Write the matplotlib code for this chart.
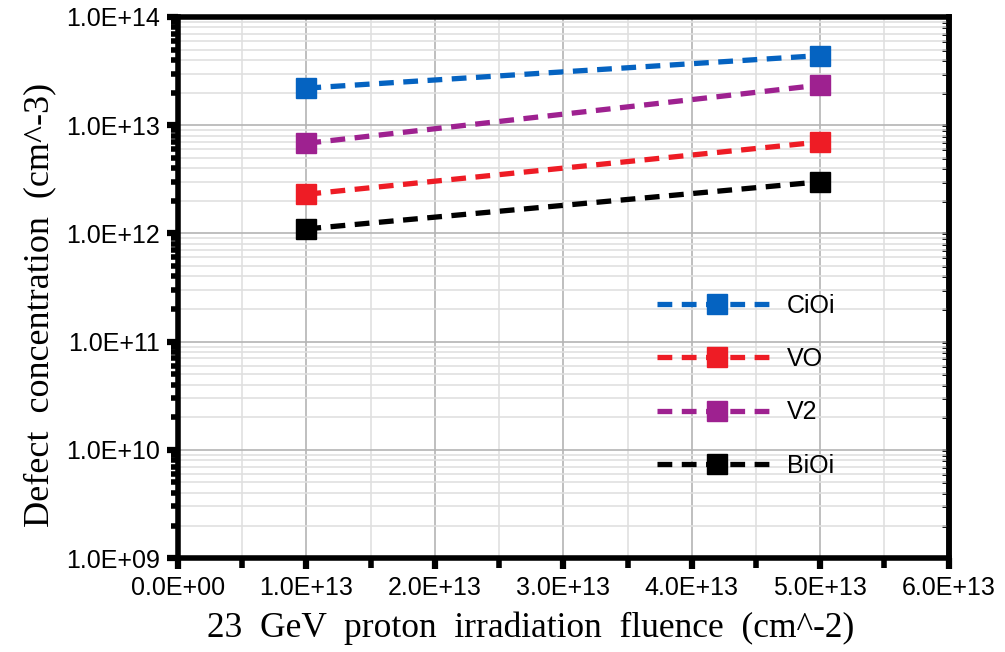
import matplotlib
matplotlib.use("Agg")
import matplotlib.pyplot as plt
from matplotlib.ticker import FuncFormatter, MultipleLocator, LogLocator, NullFormatter
import numpy as np

fluence = [1e13, 5e13]
series_names = ["CiOi", "VO", "V2", "BiOi"]
cioi = [2.2e13, 4.4e13]
vo = [2.3e12, 7.0e12]
v2 = [6.8e12, 2.35e13]
bioi = [1.1e12, 3.0e12]
colors = ["#0563c1", "#ee1c25", "#9e2190", "#000000"]

fig = plt.figure(figsize=(10.05, 6.52), dpi=100)
ax = fig.add_axes([0.177, 0.144, 0.767, 0.830])

for name, vals, c in zip(series_names, [cioi, vo, v2, bioi], colors):
    ax.plot(fluence, vals, color=c, lw=3.8, ls=(0, (2.8, 1.8)), marker='s',
            markersize=14, label=name, zorder=3)

ax.set_yscale('log')
ax.set_ylim(1e9, 1e14)
ax.set_xlim(0, 6e13)
ax.xaxis.set_major_locator(MultipleLocator(1e13))
ax.xaxis.set_minor_locator(MultipleLocator(5e12))
ax.yaxis.set_major_locator(LogLocator(base=10, numticks=20))
ax.yaxis.set_minor_locator(LogLocator(base=10, subs=np.arange(2, 10), numticks=20))
ax.yaxis.set_minor_formatter(NullFormatter())

def sci(v, pos):
    if v == 0:
        return "0.0E+00"
    e = int(np.floor(np.log10(abs(v)) + 1e-9))
    m = v / 10**e
    return f"{m:.1f}E+{e:02d}"

ax.xaxis.set_major_formatter(FuncFormatter(sci))
ax.yaxis.set_major_formatter(FuncFormatter(sci))

ax.grid(which='major', color='#b4b4b4', lw=1.2, zorder=0)
ax.grid(which='minor', color='#e0e0e0', lw=1.2, zorder=0)
ax.set_axisbelow(True)

for s in ax.spines.values():
    s.set_linewidth(4)
    s.set_color('black')

ax.tick_params(axis='both', which='major', length=8, width=4.5, labelsize=18,
               direction='out', pad=5)
ax.tick_params(axis='y', which='minor', length=5, width=4, direction='out')
ax.tick_params(axis='x', which='minor', length=7, width=4, direction='out')
for lab in ax.get_xticklabels() + ax.get_yticklabels():
    lab.set_family(['Liberation Sans', 'DejaVu Sans'])

sec = ax.secondary_yaxis('right')
sec.yaxis.set_major_locator(LogLocator(base=10, numticks=20))
sec.yaxis.set_minor_locator(LogLocator(base=10, subs=np.arange(2, 10), numticks=20))
sec.yaxis.set_minor_formatter(NullFormatter())
sec.tick_params(which='both', direction='in', length=5, width=2, labelright=False)
sec.spines['right'].set_linewidth(4)

ax.set_xlabel("23  GeV  proton  irradiation  fluence  (cm^-2)", fontsize=25.5,
              family=['Liberation Serif', 'DejaVu Serif'], labelpad=2)
ax.xaxis.set_label_coords(0.457, -0.098)
ax.set_ylabel("Defect  concentration  (cm^-3)", fontsize=26,
              family=['Liberation Serif', 'DejaVu Serif'], labelpad=8)
ax.yaxis.set_label_coords(-0.158, 0.468)

leg = ax.legend(loc='upper left', bbox_to_anchor=(0.592, 0.53), frameon=False,
                handlelength=4.85, labelspacing=1.17, handletextpad=0.35,
                prop={'family': ['Liberation Sans', 'DejaVu Sans'], 'size': 18})

fig.savefig("out.png", dpi=100)
